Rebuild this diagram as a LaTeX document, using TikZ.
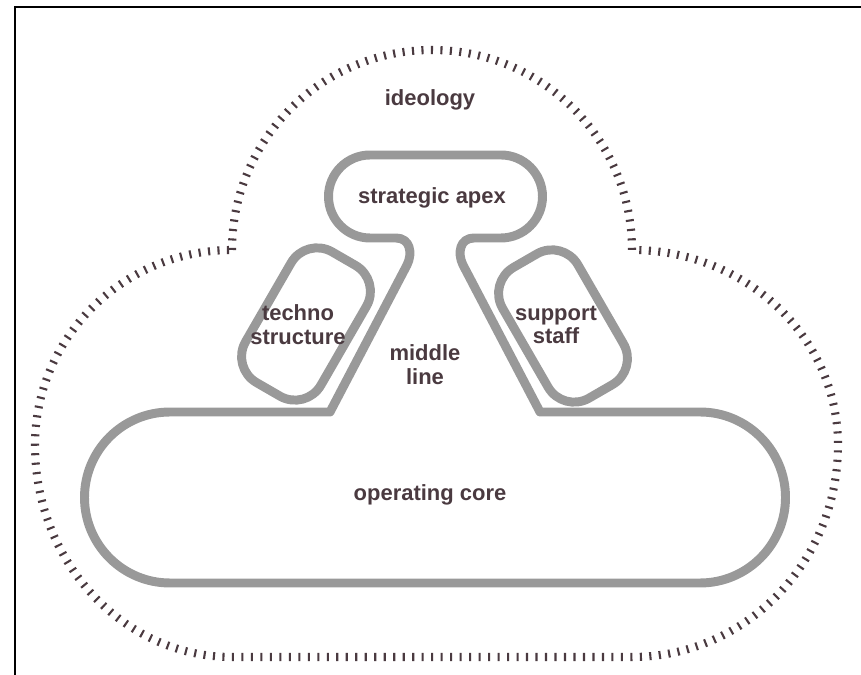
\documentclass[tikz,border=0pt]{standalone}
\usepackage{fontspec}
\setmainfont{Liberation Sans}
\usetikzlibrary{positioning}
\definecolor{wallgray}{HTML}{999999}
\definecolor{inkbrown}{HTML}{4A3A40}

\begin{document}
\begin{tikzpicture}[x=0.02cm,y=0.02cm,
  wall/.style={draw=wallgray,line width=5.1pt,line join=round},
  ideoline/.style={draw=inkbrown,line width=4.6pt,dash pattern=on 1.2pt off 4.2pt},
  lbl/.style={text=inkbrown,font=\bfseries\fontsize{12.5}{13.6}\selectfont,align=center,inner sep=0pt},
  staffbox/.style={wall,rounded corners=0.6cm,minimum width=1.74cm,minimum height=3.02cm,inner sep=0pt}]
  \useasboundingbox (0,0) rectangle (861,675);

  % frame
  \draw[line width=1.2pt] (861,668) -- (15,668) -- (15,0);

  % ideology
  \draw[ideoline] (232,425) arc[start angle=180,end angle=0,radius=200]
    arc[start angle=90,end angle=0,x radius=206,y radius=195]
    arc[start angle=0,end angle=-90,x radius=206,y radius=212]
    -- (232,18)
    arc[start angle=-90,end angle=-180,x radius=197,y radius=212]
    arc[start angle=180,end angle=90,x radius=197,y radius=195];

  % apex, middle line and operating core
  \draw[wall] (330,263) -- (407,410) .. controls (413,422) and (410,437) .. (396,437)
    -- (370,437) arc[start angle=270,end angle=90,radius=41.5]
    -- (501,520) arc[start angle=90,end angle=-90,radius=41.5]
    -- (474,437) .. controls (460,437) and (457,422) .. (463,410)
    -- (540,263) -- (700,263) arc[start angle=90,end angle=-90,radius=85.5]
    -- (170,92) arc[start angle=270,end angle=90,radius=85.5] -- cycle;

  \node[staffbox,rotate=-30] (technobox) at (306,351) {};
  \node[staffbox,rotate=30] (supportbox) at (563,349) {};

  \node[lbl] (ideology) at (430,575) {ideology};
  \node[lbl] (apex) at (432,477) {strategic apex};
  \node[lbl] (techno) at (298,350) {techno\\structure};
  \node[lbl] (support) at (556,350) {support\\staff};
  \node[lbl] (middle) at (425,310) {middle\\line};
  \node[lbl] (core) at (430,180) {operating core};
\end{tikzpicture}
\end{document}
